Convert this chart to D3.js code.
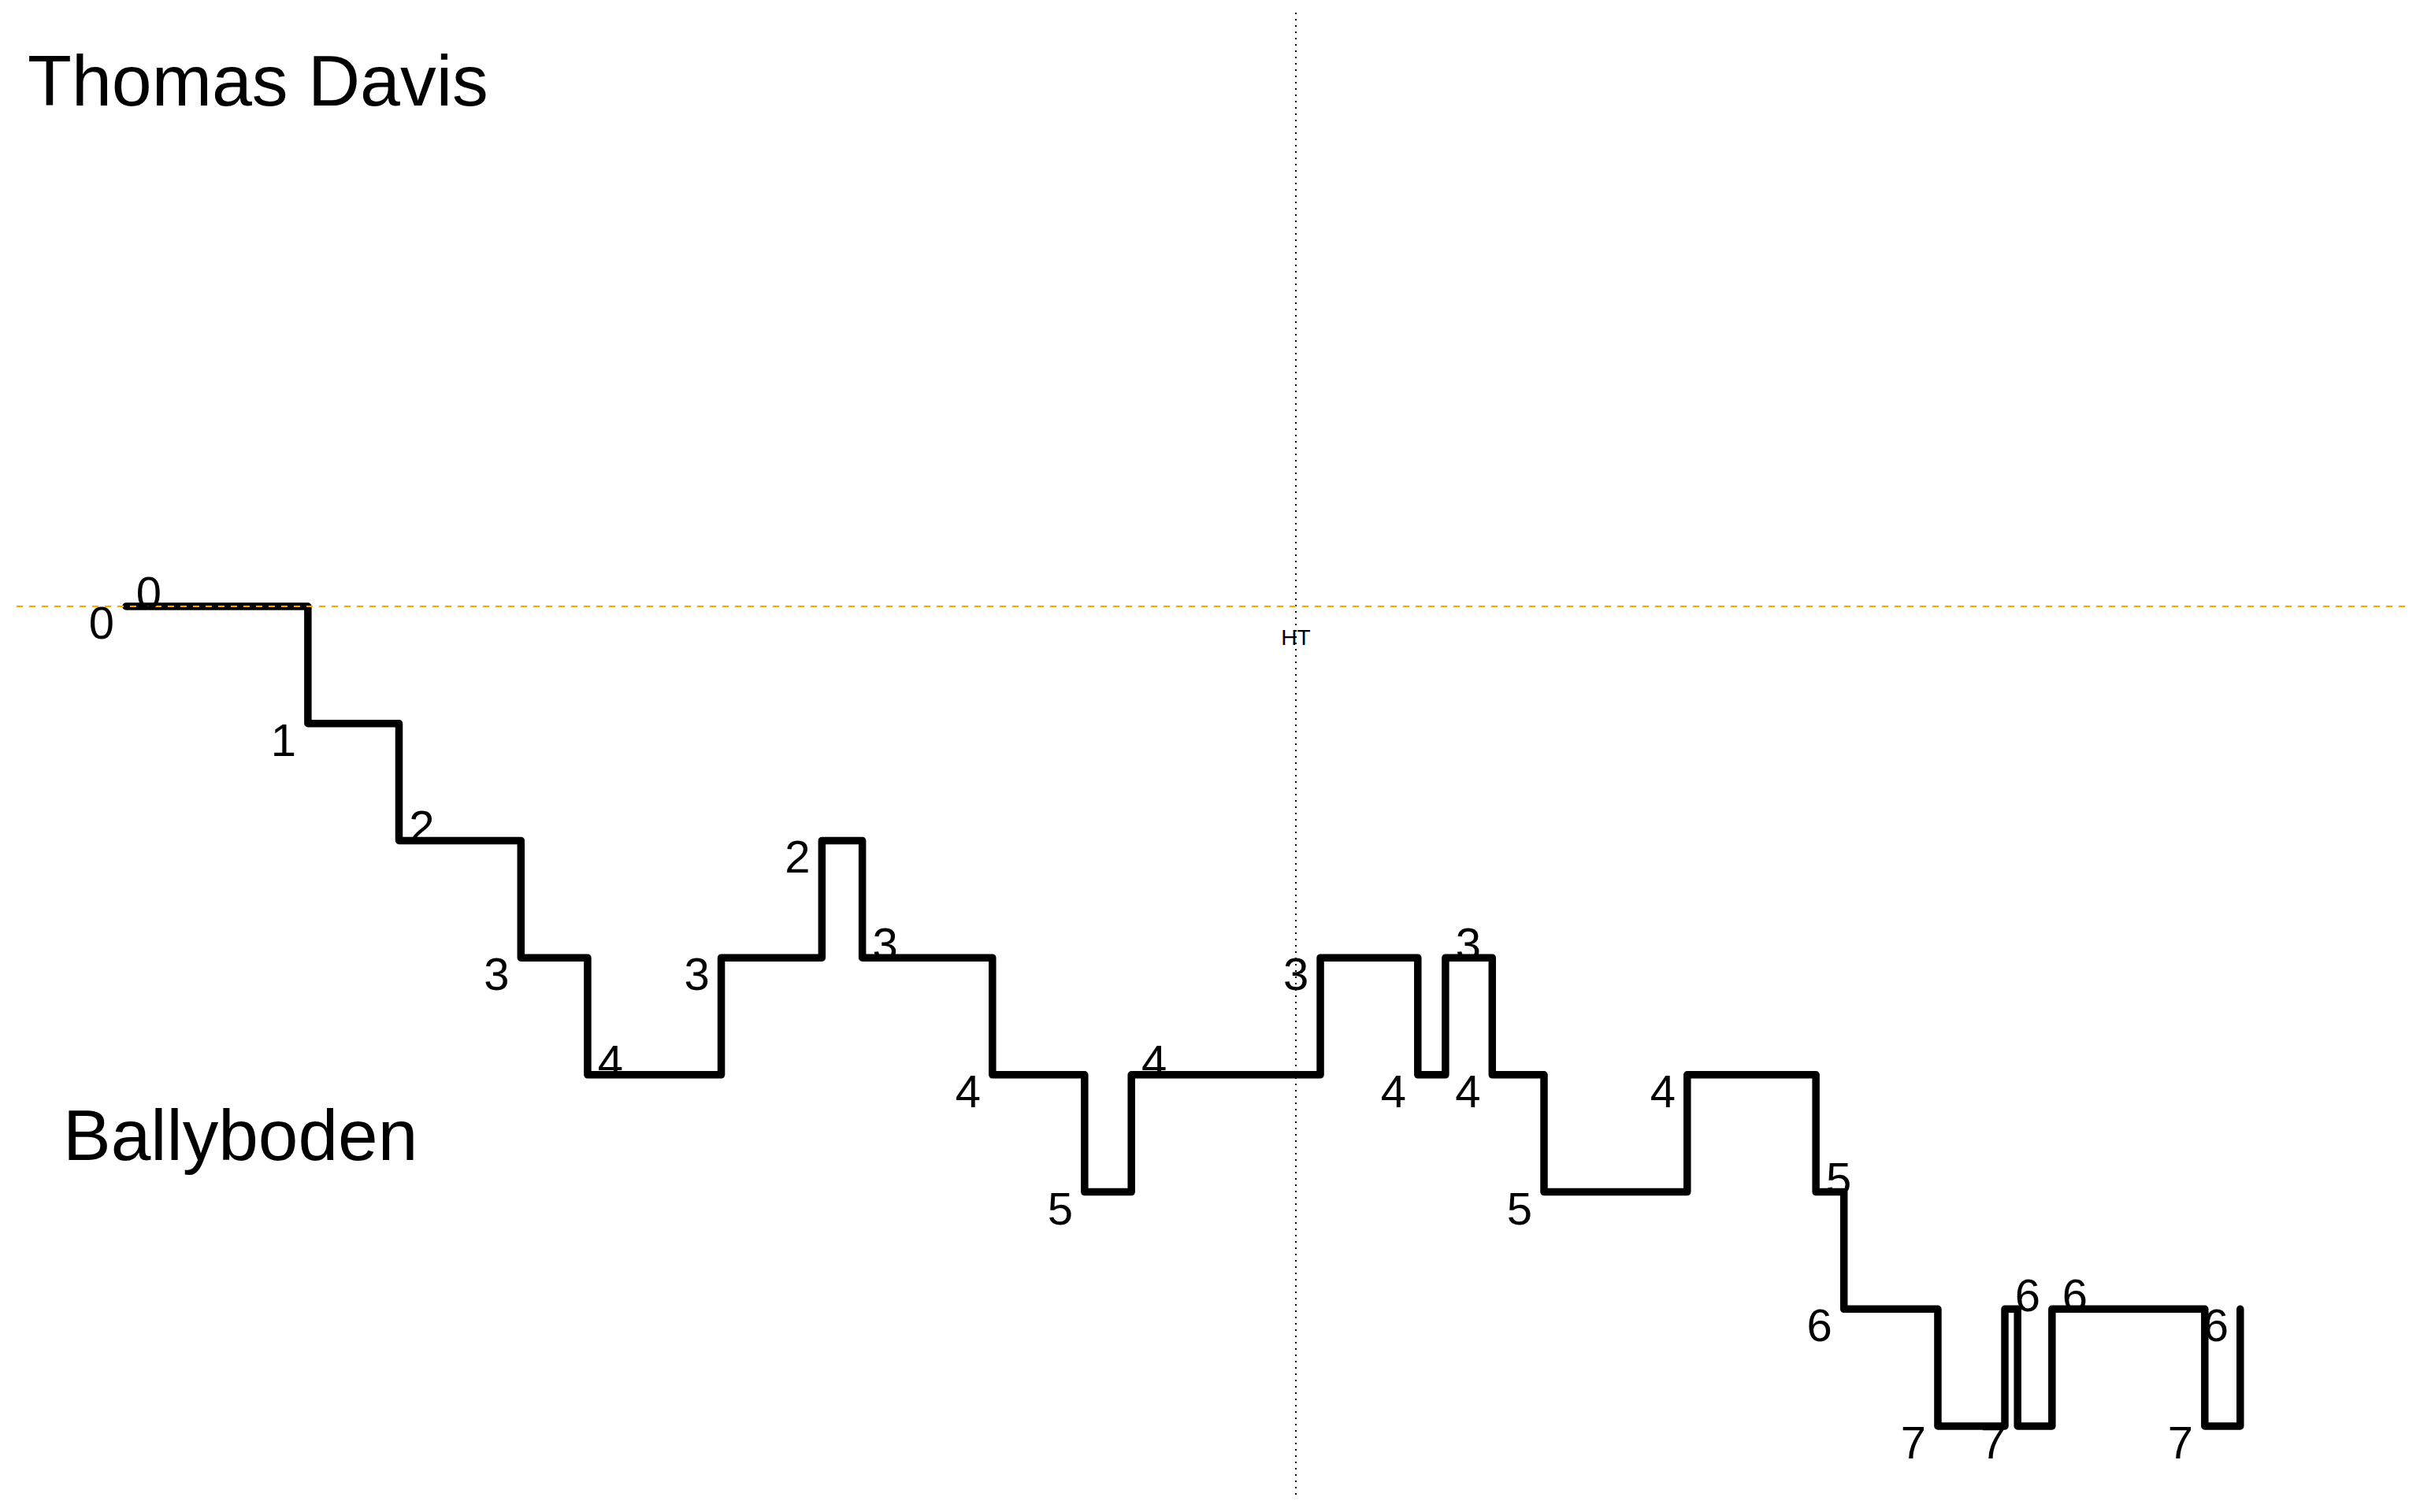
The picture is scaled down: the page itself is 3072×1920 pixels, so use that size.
<!DOCTYPE html>
<html>
<head>
<meta charset="utf-8">
<script src="https://cdn.jsdelivr.net/npm/d3@7"></script>
<style>
  html, body { margin: 0; padding: 0; background: #fff; }
  svg { display: block; }
  text { font-family: "Liberation Sans", Arial, sans-serif; fill: #000; }
</style>
</head>
<body>
<script>
// ---- data ----
const teamTop = "Thomas Davis";
const teamBottom = "Ballyboden";
const halfTimeLabel = "HT";
const halfTimeMinute = 33;
// match minute of each scoring event
const minutes = [0, 0, 5.13, 7.70, 11.14, 13.02, 16.79, 19.63, 20.77, 24.44, 27.04, 28.36,
                 33.69, 36.44, 37.22, 38.54, 40.0, 44.04, 47.67, 48.46, 51.11, 53.0, 53.36, 54.33, 58.64, 59.64];
// score margin after each event (Ballyboden lead)
const margins = [0, 0, 1, 2, 3, 4, 3, 2, 3, 4, 5, 4,
                 3, 4, 3, 4, 5, 4, 5, 6, 7, 6, 7, 6, 7, 6];
// which side of the step each margin label sits on
const labelSides = ["L", "R", "L", "R", "L", "R", "L", "L", "R", "L", "L", "R",
                    "L", "L", "R", "L", "L", "L", "R", "L", "L", "R", "L", "R", "L", "L"];

const W = 3072, H = 1920;
const svg = d3.select("body").append("svg").attr("width", W).attr("height", H);

const x = d3.scaleLinear().domain([0, 60]).range([160, 160 + 60 * 45]);
const y = d3.scaleLinear().domain([0, 7]).range([770, 1811]);

const plotLeft = 21, plotRight = 3053, plotTop = 16, plotBottom = 1898;

const pts = minutes.map((m, i) => ({ t: m, v: margins[i], side: labelSides[i] }));

// step line
const line = d3.line().x(d => x(d.t)).y(d => y(d.v)).curve(d3.curveStepAfter);
svg.append("path")
  .datum(pts)
  .attr("d", line)
  .attr("fill", "none")
  .attr("stroke", "#000")
  .attr("stroke-width", 9.5)
  .attr("stroke-linejoin", "round")
  .attr("stroke-linecap", "round");

// half-time vertical dotted line
svg.append("line")
  .attr("x1", x(halfTimeMinute)).attr("x2", x(halfTimeMinute))
  .attr("y1", plotTop).attr("y2", plotBottom)
  .attr("stroke", "#000").attr("stroke-width", 2)
  .attr("stroke-dasharray", "2,6");

// level line (orange dashed)
svg.append("line")
  .attr("x1", plotLeft).attr("x2", plotRight)
  .attr("y1", y(0)).attr("y2", y(0))
  .attr("stroke", "#FFA500").attr("stroke-width", 2)
  .attr("stroke-dasharray", "8,8");

// HT label
svg.append("text")
  .attr("x", x(halfTimeMinute)).attr("y", 819)
  .attr("text-anchor", "middle")
  .attr("font-size", 28)
  .text(halfTimeLabel);

// margin labels
svg.append("g").selectAll("text")
  .data(pts)
  .join("text")
  .attr("x", d => x(d.t) + (d.side === "L" ? -31 : 29))
  .attr("y", d => y(d.v) + (d.side === "L" ? 41 : 3))
  .attr("text-anchor", "middle")
  .attr("font-size", 58)
  .text(d => d.v);

// team names
svg.append("text").attr("x", 35).attr("y", 134).attr("font-size", 91.5).text(teamTop);
svg.append("text").attr("x", 80).attr("y", 1473).attr("font-size", 91).text(teamBottom);
</script>
</body>
</html>
